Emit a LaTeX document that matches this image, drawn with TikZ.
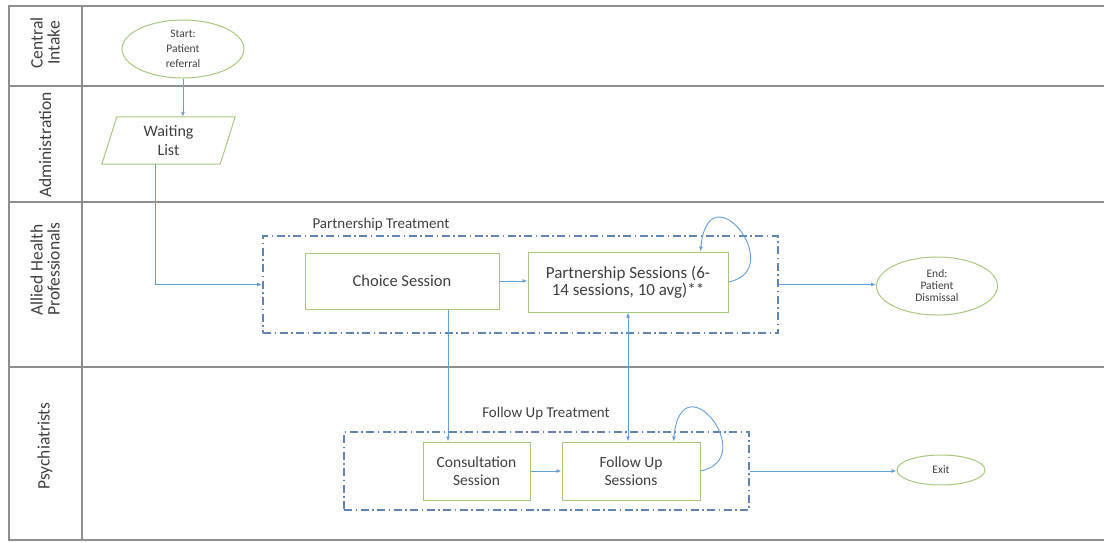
\documentclass[tikz,border=0pt]{standalone}
\usepackage{fontspec}
\setmainfont{Carlito}
\usetikzlibrary{shapes.geometric,arrows.meta,calc}

\definecolor{lanegray}{HTML}{8E8E8E}
\definecolor{boxgreen}{HTML}{A9C77E}
\definecolor{flowblue}{HTML}{679FD8}
\definecolor{groupblue}{HTML}{6383B0}
\definecolor{txt}{HTML}{404040}

\begin{document}
\begin{tikzpicture}[x=1pt,y=-1pt,
  lane/.style={draw=lanegray,line width=1.4pt},
  lanelabel/.style={rotate=90,align=center,text=txt,font=\fontsize{17.5}{17}\selectfont},
  stepbox/.style={draw=boxgreen,line width=1pt,align=center,text=txt,inner sep=0pt},
  term/.style={ellipse,draw=boxgreen,line width=1pt,align=center,text=txt,inner sep=0pt},
  group/.style={draw=groupblue,line width=2pt,dash pattern=on 8pt off 3.5pt on 1.5pt off 3.5pt,inner sep=0pt},
  flow/.style={draw=flowblue,line width=0.9pt,-{Latex[length=5pt,width=4pt]}},
  grouplabel/.style={text=txt,font=\fontsize{15}{18}\selectfont},
]
\useasboundingbox (0,0) rectangle (1104,542);

% swimlane grid
\draw[lane] (8,6) -- (1104,6);
\draw[lane] (8,86) -- (1104,86);
\draw[lane] (8,202) -- (1104,202);
\draw[lane] (8,367) -- (1104,367);
\draw[lane] (8,540) -- (1104,540);
\draw[lane] (9,6) -- (9,540);
\draw[lane] (82,6) -- (82,540);

% lane titles
\node[lanelabel] (lci) at (45,43) {Central\\Intake};
\node[lanelabel] (lad) at (45,145) {Administration};
\node[lanelabel,align=left] (lah) at (45,269) {Allied Health\\Professionals};
\node[lanelabel] (lps) at (45,446) {Psychiatrists};

% groups
\node[group,minimum width=515pt,minimum height=97pt] (ptgroup) at (520.5,284.5) {};
\node[grouplabel,anchor=west] (ptlabel) at (309,224) {Partnership Treatment};
\node[group,minimum width=405pt,minimum height=78pt] (fugroup) at (546.5,471) {};
\node[grouplabel] (fulabel) at (546,413) {Follow Up Treatment};

% steps
\node[term,minimum width=122pt,minimum height=58pt,font=\fontsize{11.5}{15}\selectfont] (start) at (183,49) {Start:\\Patient\\referral};
\node[align=center,text=txt,inner sep=0pt,minimum width=133pt,minimum height=47pt,font=\fontsize{16}{19}\selectfont] (wait) at (168.5,140.5) {Waiting\\List};
\draw[boxgreen,line width=1pt] ($(wait.north west)+(15,0)$) -- (wait.north east) -- ($(wait.south east)-(15,0)$) -- (wait.south west) -- cycle;
\node[stepbox,minimum width=194pt,minimum height=56pt,font=\fontsize{16.5}{17}\selectfont] (choice) at (402,281) {Choice Session};
\node[stepbox,minimum width=200pt,minimum height=60pt,font=\fontsize{17}{17}\selectfont] (psess) at (628,282) {Partnership Sessions (6-\\14 sessions, 10 avg)**};
\node[stepbox,minimum width=107pt,minimum height=58pt,font=\fontsize{15.5}{18}\selectfont] (consult) at (476.5,471) {Consultation\\Session};
\node[stepbox,minimum width=138pt,minimum height=58pt,font=\fontsize{15.5}{18}\selectfont] (fsess) at (631,471) {Follow Up\\Sessions};
\node[term,minimum width=121pt,minimum height=58pt,font=\fontsize{11.5}{12}\selectfont] (end) at (937,286) {End:\\Patient\\Dismissal};
\node[term,minimum width=88pt,minimum height=30pt,font=\fontsize{11.5}{12}\selectfont] (exit) at (941,470) {Exit};

% connectors
\coordinate (wl) at (155,0);
\coordinate (cx) at (448,0);
\draw[flow] (start.south) -- (start.south |- wait.north);
\draw[flow] (wait.south -| wl) |- (ptgroup.west);
\draw[flow] (choice.east) -- (psess.west |- choice.east);
\draw[flow] (psess.east) .. controls +(60,-12) and +(8,-84) .. ($(psess.north east)+(-28,0)$);
\draw[flow] (ptgroup.east) -- (ptgroup.east -| end.west);
\draw[flow] (choice.south -| cx) -- (consult.north -| cx);
\draw[flow,{Latex[length=5pt,width=4pt]}-{Latex[length=5pt,width=4pt]}] (psess.south) -- (fsess.north -| psess.south);
\draw[flow] (consult.east) -- (fsess.west |- consult.east);
\draw[flow] (fsess.east) .. controls +(60,-12) and +(8,-84) .. ($(fsess.north east)+(-27,0)$);
\draw[flow] (fugroup.east) -- (fugroup.east -| exit.west);
\end{tikzpicture}
\end{document}
